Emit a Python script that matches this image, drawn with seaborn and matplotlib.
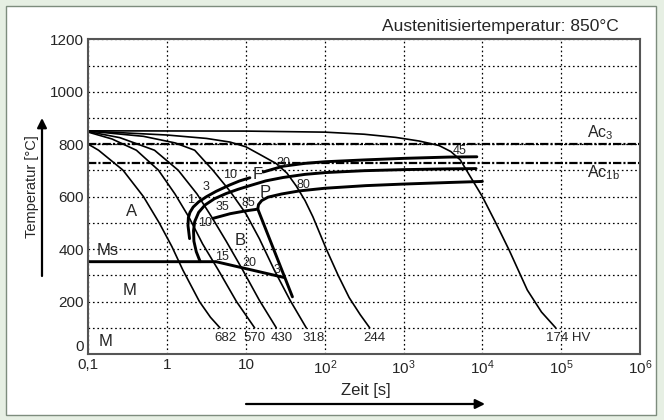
import numpy as np
import pandas as pd
import matplotlib
matplotlib.use('Agg')
import matplotlib.pyplot as plt
from matplotlib.patches import Rectangle
from matplotlib.ticker import MultipleLocator, NullLocator, FixedLocator
import seaborn as sns

# cooling curves: log10(time [s]) and temperature [degC]
c1_logt = [-1.0, -0.87, -0.56, -0.3, -0.1, 0.06, 0.2, 0.41, 0.55, 0.67]
c1_temp = [800, 777, 701, 600, 500, 410, 320, 200, 140, 100]
c2_logt = [-1.0, -0.7, -0.39, -0.11, 0.1, 0.28, 0.45, 0.65, 0.88, 1.11]
c2_temp = [846, 820, 777, 701, 610, 520, 420, 320, 200, 100]
c3_logt = [-1.0, -0.6, -0.16, 0.14, 0.38, 0.56, 0.75, 0.96, 1.17, 1.385]
c3_temp = [848, 825, 777, 701, 610, 525, 430, 320, 205, 100]
c4_logt = [-1.0, -0.3, 0.1, 0.35, 0.58, 0.8, 1.0, 1.17, 1.36, 1.56, 1.765]
c4_temp = [850, 830, 805, 777, 701, 620, 535, 440, 320, 205, 100]
c5_logt = [-1.0, 0.0, 0.5, 0.8, 1.0, 1.2, 1.385, 1.52, 1.64, 1.75, 1.85, 2.02, 2.17, 2.31, 2.45, 2.57]
c5_temp = [850, 835, 822, 808, 790, 757, 726, 690, 640, 585, 523, 400, 300, 215, 150, 100]
c6_logt = [-1.0, 1.0, 2.0, 2.5, 2.9, 3.2, 3.45, 3.6, 3.72, 3.87, 4.0, 4.17, 4.34, 4.57, 4.75, 4.93]
c6_temp = [851, 850, 846, 838, 826, 812, 795, 772, 740, 665, 600, 500, 396, 244, 160, 100]
cooling = [(c1_logt, c1_temp), (c2_logt, c2_temp), (c3_logt, c3_temp),
           (c4_logt, c4_temp), (c5_logt, c5_temp), (c6_logt, c6_temp)]

# transformation lines
f_start_a_logt = [0.285, 0.265, 0.27, 0.29, 0.33, 0.40, 0.5, 0.62, 0.79, 0.92, 1.05]
f_start_a_temp = [440, 490, 520, 540, 560, 580, 600, 620, 644, 660, 672]
f_start_b_logt = [1.22, 1.47, 1.75, 2.0, 2.5, 3.0, 3.58, 3.93]
f_start_b_temp = [694, 716, 727, 733, 740, 746, 751, 752]
p_start_logt = [0.42, 0.37, 0.34, 0.335, 0.35, 0.40, 0.48, 0.60, 0.75, 0.9, 1.05, 1.25, 1.47, 1.75, 2.02, 2.5, 3.0, 3.58, 3.92]
p_start_temp = [352, 390, 430, 470, 505, 540, 568, 592, 612, 628, 642, 660, 673, 685, 692, 699, 703, 706, 707]
p_end_logt = [0.58, 0.8, 1.0, 1.12, 1.15, 1.16, 1.2, 1.28, 1.45, 1.68, 2.0, 2.52, 3.0, 3.58, 4.0]
p_end_temp = [517, 535, 546, 551, 553, 570, 585, 598, 610, 622, 632, 642, 648, 654, 658]
b_end_logt = [1.15, 1.59]
b_end_temp = [553, 218]
ms_logt = [-1.0, 0.62, 1.48]
ms_temp = [352, 352, 292]

ac3 = 800
ac1b = 730

temp_ticks = [0, 200, 400, 600, 800, 1000, 1200]
time_ticks = [0.1, 1, 10, 1e2, 1e3, 1e4, 1e5, 1e6]
time_labels = ['0,1', '1', '10', r'$\mathregular{10^{2}}$', r'$\mathregular{10^{3}}$',
               r'$\mathregular{10^{4}}$', r'$\mathregular{10^{5}}$', r'$\mathregular{10^{6}}$']

hardness = ['682', '570', '430', '318', '244', '174 HV']
hardness_logt = [0.74, 1.11, 1.456, 1.857, 2.63, 5.09]

sns.set_style('white')
plt.rcParams['font.family'] = ['Liberation Sans', 'DejaVu Sans']
plt.rcParams['mathtext.fontset'] = 'custom'
plt.rcParams['mathtext.rm'] = 'Liberation Sans'
plt.rcParams['mathtext.it'] = 'Liberation Sans:italic'
plt.rcParams['mathtext.bf'] = 'Liberation Sans:bold'
plt.rcParams['lines.scale_dashes'] = False

W, H = 664, 420
fig = plt.figure(figsize=(W / 100, H / 100), dpi=100, facecolor='#e6efe3')
panel = Rectangle((6 / W, 5 / H), 650 / W, 409 / H, transform=fig.transFigure,
                  facecolor='white', edgecolor='#7d8c7d', lw=1.0, zorder=-5)
fig.add_artist(panel)

ax = fig.add_axes([88.3 / W, 66 / H, 551.7 / W, 314.7 / H])
ax.set_xscale('log')


def draw(logt, temp, lw):
    df = pd.DataFrame({'t': np.power(10.0, logt), 'T': temp})
    sns.lineplot(data=df, x='t', y='T', sort=False, estimator=None,
                 color='black', lw=lw, ax=ax)


for logt, temp in cooling:
    draw(logt, temp, 1.2)
for logt, temp in [(f_start_a_logt, f_start_a_temp), (f_start_b_logt, f_start_b_temp),
                   (p_start_logt, p_start_temp), (p_end_logt, p_end_temp),
                   (b_end_logt, b_end_temp), (ms_logt, ms_temp)]:
    draw(logt, temp, 2.1)

for lvl in [ac3, ac1b]:
    ax.axhline(lvl, color='black', lw=1.6, dashes=(6, 1.5, 1.5, 1.5))

ax.set_xlim(0.1, 1e6)
ax.set_ylim(0, 1200)
ax.xaxis.set_major_locator(FixedLocator(time_ticks))
ax.xaxis.set_minor_locator(NullLocator())
ax.set_xticklabels(time_labels)
ax.yaxis.set_major_locator(FixedLocator(temp_ticks))
ax.yaxis.set_minor_locator(MultipleLocator(100))
ax.set_yticklabels([str(v) for v in temp_ticks])
ax.tick_params(which='both', length=0, labelsize=11, pad=3)
ax.grid(which='major', axis='both', color='black', lw=0.9, ls=(0, (1.2, 2)))
ax.grid(which='minor', axis='y', color='black', lw=0.9, ls=(0, (1.2, 2)))
ax.set_axisbelow(True)
ax.set_xlabel('')
ax.set_ylabel('')
for s in ax.spines.values():
    s.set_color('#555555')
    s.set_linewidth(1.5)

# region labels
big = dict(fontsize=12, ha='center', va='center')
ax.text(10 ** -0.447, 542, 'A', **big)
ax.text(10 ** 0.923, 434, 'B', **big)
ax.text(10 ** -0.75, 396, 'Ms', **big)
ax.text(10 ** -0.48, 244, 'M', **big)
ax.text(10 ** -0.777, 47, 'M', **big)
ax.text(10 ** 1.153, 684, 'F', **big)
ax.text(10 ** 1.25, 616, 'P', **big)
ax.text(10 ** 5.33, 825, r'$\mathregular{Ac_{3}}$', fontsize=11.5, ha='left', va='baseline')
ax.text(10 ** 5.33, 675, r'$\mathregular{Ac_{1b}}$', fontsize=11.5, ha='left', va='baseline')

small = dict(fontsize=9, ha='center', va='center')
for lx, ly, s in [(0.296, 587, '1'), (0.499, 637, '3'), (0.794, 682, '10'),
                  (0.70, 559, '35'), (1.025, 577, '85'), (0.477, 498, '10'),
                  (0.70, 371, '15'), (1.04, 348, '20'), (1.39, 320, '3'),
                  (1.468, 729, '20'), (1.73, 644, '80'), (3.71, 773, '45')]:
    ax.text(10 ** lx, ly, s, **small)

for lx, s in zip(hardness_logt, hardness):
    ax.text(10 ** lx, 62, s, fontsize=9.5, ha='center', va='center')

fig.text(619 / W, 1 - 27 / H, 'Austenitisiertemperatur: 850°C', fontsize=12.5,
         ha='right', va='center')
fig.text(366 / W, 1 - 391 / H, 'Zeit [s]', fontsize=12, ha='center', va='center')
fig.text(32 / W, 1 - 187 / H, 'Temperatur [°C]', fontsize=10.5, ha='center',
         va='center', rotation=90)

arrow = dict(arrowstyle='-|>', color='black', lw=1.6, mutation_scale=14,
             shrinkA=0, shrinkB=0)
ax.annotate('', xy=(42 / W, 1 - 118 / H), xytext=(42 / W, 1 - 276 / H),
            xycoords='figure fraction', arrowprops=arrow, annotation_clip=False)
ax.annotate('', xy=(485 / W, 1 - 404 / H), xytext=(246 / W, 1 - 404 / H),
            xycoords='figure fraction', arrowprops=arrow, annotation_clip=False)

# lift the "0" so it clears "0,1" as in the original
ax.get_yticklabels()[0].set_va('bottom')

fig.savefig('out.png', dpi=100, facecolor=fig.get_facecolor())
